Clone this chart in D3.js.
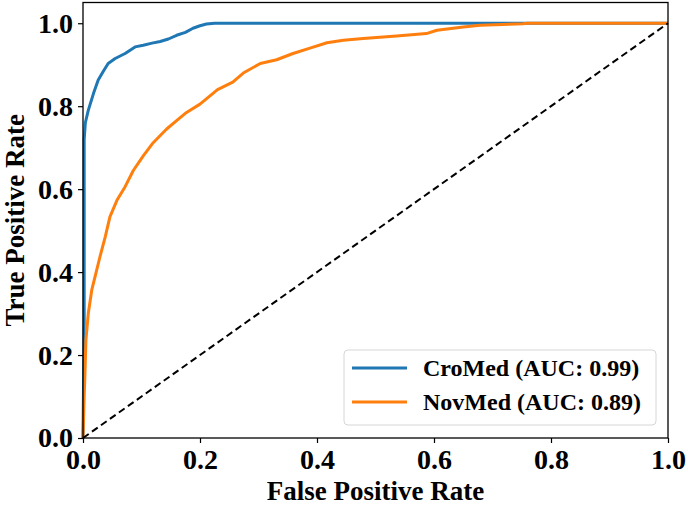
<!DOCTYPE html>
<html>
<head>
<meta charset="utf-8">
<script src="https://cdn.jsdelivr.net/npm/d3@7"></script>
<style>
  body { margin: 0; background: #fff; }
  text { font-family: "Liberation Serif", "Times New Roman", serif; font-weight: bold; fill: #000; }
</style>
</head>
<body>
<script>
// ROC curves
var croFpr = [0, 0.002, 0.002, 0.004, 0.009, 0.018, 0.026, 0.035, 0.043, 0.055, 0.072, 0.089, 0.103, 0.118, 0.132, 0.146, 0.16, 0.175, 0.188, 0.2, 0.211, 0.225, 0.24, 1.0];
var croTpr = [0, 0.28, 0.72, 0.76, 0.79, 0.831, 0.863, 0.885, 0.903, 0.915, 0.927, 0.943, 0.947, 0.952, 0.956, 0.962, 0.971, 0.978, 0.988, 0.994, 0.998, 1.0, 1.0, 1.0];

var novFpr = [0, 0.002, 0.003, 0.005, 0.009, 0.015, 0.022, 0.029, 0.038, 0.046, 0.058, 0.072, 0.086, 0.103, 0.12, 0.143, 0.16, 0.177, 0.2, 0.23, 0.256, 0.274, 0.303, 0.331, 0.359, 0.388, 0.417, 0.445, 0.479, 0.536, 0.587, 0.605, 0.65, 0.679, 0.752, 0.76, 1.0];
var novTpr = [0, 0.10, 0.14, 0.236, 0.30, 0.357, 0.397, 0.437, 0.485, 0.533, 0.573, 0.606, 0.645, 0.68, 0.712, 0.745, 0.765, 0.785, 0.805, 0.84, 0.858, 0.88, 0.903, 0.912, 0.927, 0.94, 0.953, 0.959, 0.963, 0.969, 0.975, 0.983, 0.991, 0.995, 0.999, 1.0, 1.0];

var seriesNames = ["CroMed (AUC: 0.99)", "NovMed (AUC: 0.89)"];
var seriesColors = ["#1f77b4", "#ff7f0e"];
var tickValues = [0, 0.2, 0.4, 0.6, 0.8, 1.0];

var W = 688, H = 505;
var margin = {top: 2.5, right: 20, bottom: 67, left: 83},
    width = W - margin.left - margin.right,
    height = H - margin.top - margin.bottom;

var svg = d3.select("body").append("svg")
    .attr("width", W)
    .attr("height", H);

var g = svg.append("g")
    .attr("transform", "translate(" + margin.left + "," + margin.top + ")");

var x = d3.scaleLinear().domain([0, 1]).range([0, width]);
var y = d3.scaleLinear().domain([0, 1.05]).range([height, 0]);

var line = d3.line()
    .x(function(d) { return x(d[0]); })
    .y(function(d) { return y(d[1]); });

var series = [d3.zip(croFpr, croTpr), d3.zip(novFpr, novTpr)];

series.forEach(function(s, i) {
  g.append("path")
      .datum(s)
      .attr("fill", "none")
      .attr("stroke", seriesColors[i])
      .attr("stroke-width", 3)
      .attr("stroke-linejoin", "round")
      .attr("d", line);
});

// chance line
g.append("path")
    .datum([[0, 0], [1, 1]])
    .attr("fill", "none")
    .attr("stroke", "#000")
    .attr("stroke-width", 2)
    .attr("stroke-dasharray", "7,4")
    .attr("d", line);

// axes
var xAxis = g.append("g")
    .attr("transform", "translate(0," + height + ")")
    .call(d3.axisBottom(x).tickValues(tickValues).tickFormat(d3.format(".1f")).tickSize(5).tickPadding(6));

var yAxis = g.append("g")
    .call(d3.axisLeft(y).tickValues(tickValues).tickFormat(d3.format(".1f")).tickSize(5).tickPadding(5));

[xAxis, yAxis].forEach(function(a) {
  a.select(".domain").remove();
  a.selectAll(".tick line").attr("stroke", "#000").attr("stroke-width", 1.2);
  a.selectAll(".tick text").style("font-size", "28px").attr("font-family", null);
});

// frame
g.append("rect")
    .attr("width", width)
    .attr("height", height)
    .attr("fill", "none")
    .attr("stroke", "#000")
    .attr("stroke-width", 1.3);

// axis labels
svg.append("text")
    .attr("x", margin.left + width / 2)
    .attr("y", 500)
    .attr("text-anchor", "middle")
    .style("font-size", "27px")
    .text("False Positive Rate");

svg.append("text")
    .attr("transform", "translate(24," + (margin.top + height / 2) + ") rotate(-90)")
    .attr("text-anchor", "middle")
    .style("font-size", "27px")
    .text("True Positive Rate");

// legend
var legend = svg.append("g");
legend.append("rect")
    .attr("x", 344).attr("y", 350)
    .attr("width", 312).attr("height", 75)
    .attr("rx", 4)
    .attr("fill", "#fff")
    .attr("fill-opacity", 0.8)
    .attr("stroke", "#d6d6d6")
    .attr("stroke-width", 1);

seriesNames.forEach(function(name, i) {
  var ly = 368 + i * 34;
  legend.append("line")
      .attr("x1", 352).attr("x2", 407)
      .attr("y1", ly).attr("y2", ly)
      .attr("stroke", seriesColors[i])
      .attr("stroke-width", 3);
  legend.append("text")
      .attr("x", 423)
      .attr("y", ly)
      .attr("dy", "0.35em")
      .style("font-size", "24px")
      .text(name);
});
</script>
</body>
</html>
